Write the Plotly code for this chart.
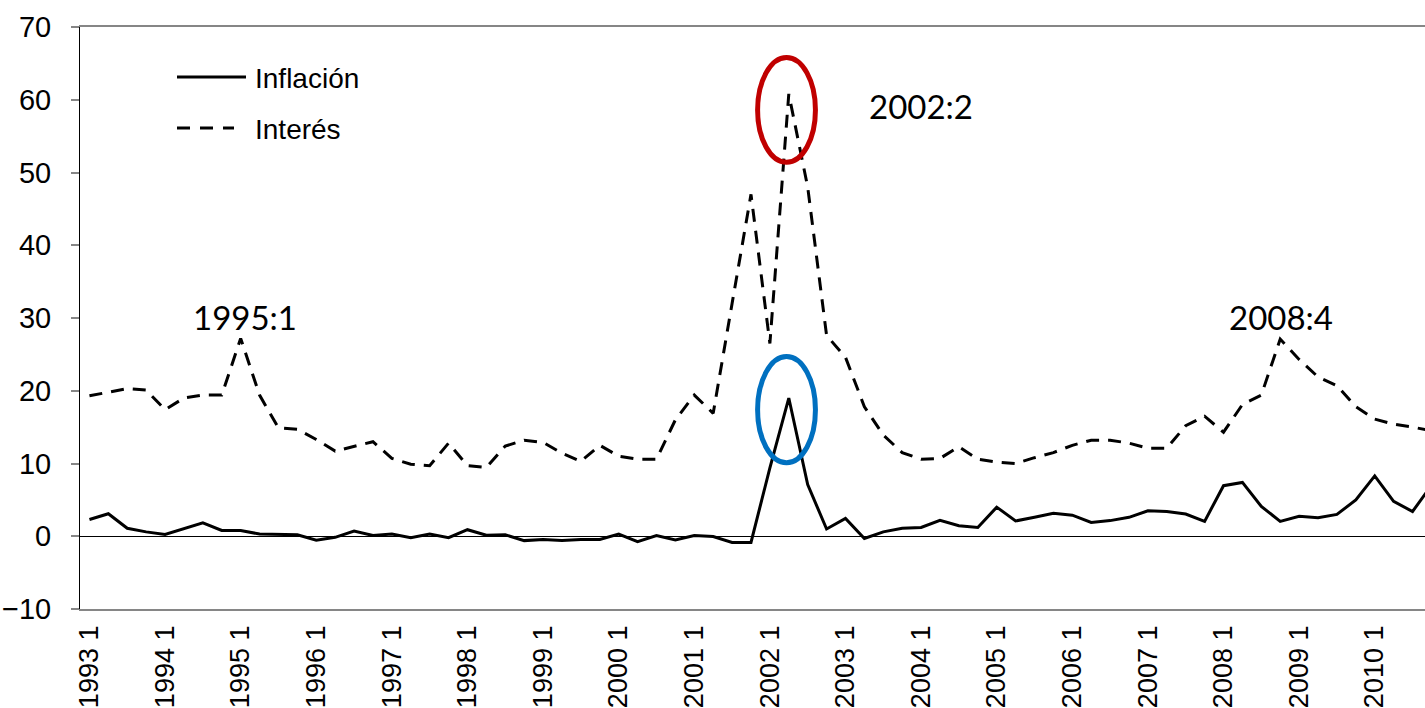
import plotly.graph_objects as go

# Quarterly series, 1993 Q1 - 2010 Q4 (percent)
quarters = [f"{y}:{q}" for y in range(1993, 2011) for q in range(1, 5)]

inflacion = [
    2.3, 3.1, 1.1, 0.6, 0.25, 1.0, 1.85, 0.8,
    0.8, 0.3, 0.3, 0.2, -0.55, -0.15, 0.7, 0.1,
    0.3, -0.2, 0.3, -0.2, 0.9, 0.15, 0.2, -0.6,
    -0.45, -0.6, -0.45, -0.45, 0.3, -0.75, 0.1, -0.5,
    0.1, -0.05, -0.85, -0.85, 9.4, 19.0, 7.1, 1.0,
    2.45, -0.3, 0.6, 1.1, 1.2, 2.2, 1.45, 1.2,
    4.0, 2.1, 2.6, 3.15, 2.9, 1.9, 2.15, 2.6,
    3.5, 3.4, 3.05, 2.05, 6.95, 7.4, 4.1, 2.05,
    2.75, 2.55, 3.0, 5.0, 8.3, 4.8, 3.4, 7.0,
]

interes = [
    19.3, 19.8, 20.3, 20.1, 17.4, 19.0, 19.4, 19.4,
    27.2, 19.4, 14.9, 14.7, 13.3, 11.7, 12.4, 13.0,
    10.7, 9.9, 9.7, 12.8, 9.7, 9.45, 12.4, 13.2,
    12.9, 11.4, 10.3, 12.5, 11.0, 10.6, 10.6, 16.0,
    19.4, 16.9, 32.0, 47.0, 26.5, 60.8, 48.0, 27.6,
    24.6, 17.8, 13.9, 11.5, 10.6, 10.7, 12.3, 10.6,
    10.2, 10.0, 10.8, 11.5, 12.5, 13.2, 13.2, 12.8,
    12.1, 12.1, 15.2, 16.5, 14.3, 18.1, 19.4, 27.1,
    24.3, 21.9, 20.7, 17.8, 16.1, 15.4, 15.0, 14.5,
]

# Category axis: one label per year, at the first quarter
tick_idx = list(range(0, len(quarters), 4))
tick_text = [f"{quarters[i].split(':')[0]} 1" for i in tick_idx]

# Highlighted quarters
peak_labels = ["1995:1", "2002:2", "2008:4"]

FONT = "Liberation Sans, Arial, sans-serif"
NOTE_FONT = "Lato, Century Gothic, sans-serif"

x = list(range(len(quarters)))

fig = go.Figure()
fig.add_trace(go.Scatter(
    x=x, y=inflacion, mode="lines", name="Inflación",
    line=dict(color="black", width=3), showlegend=False,
))
fig.add_trace(go.Scatter(
    x=x, y=interes, mode="lines", name="Interés",
    line=dict(color="black", width=3, dash="13px,9px"), showlegend=False,
))

# Peak annotations (quarter label placed above each interest-rate peak)
note_pos = {"1995:1": (8.23, 30.1), "2002:2": (44.0, 59.1), "2008:4": (63.04, 30.1)}
for lab in peak_labels:
    px, py = note_pos[lab]
    fig.add_annotation(
        x=px, y=py, xref="x", yref="y", text=lab, showarrow=False,
        xanchor="center", yanchor="middle",
        font=dict(family=NOTE_FONT, size=33, color="black"),
    )

# Ellipses around the 2002:2 peaks
k = quarters.index("2002:2")
fig.add_shape(type="circle", xref="x", yref="y",
              x0=k - 0.12 - 1.53, x1=k - 0.12 + 1.53, y0=51.4, y1=65.8,
              line=dict(color="#C00000", width=5))
fig.add_shape(type="circle", xref="x", yref="y",
              x0=k - 0.12 - 1.53, x1=k - 0.12 + 1.53, y0=10.1, y1=24.7,
              line=dict(color="#0070C0", width=5))

# Hand-drawn legend (long line samples)
W, L, T, H = 1425, 80, 27, 582
PW = W - L


def px_x(p):
    return (p - L) / PW


def px_y(p):
    return (T + H - p) / H


fig.add_shape(type="line", xref="paper", yref="paper",
              x0=px_x(177), x1=px_x(246), y0=px_y(77), y1=px_y(77),
              line=dict(color="black", width=3))
fig.add_shape(type="line", xref="paper", yref="paper",
              x0=px_x(177), x1=px_x(234), y0=px_y(128), y1=px_y(128),
              line=dict(color="black", width=3, dash="13px,10px"))
fig.add_annotation(x=px_x(253), y=px_y(78), xref="paper", yref="paper",
                   text="Inflación", showarrow=False, xanchor="left", yanchor="middle",
                   font=dict(family=FONT, size=28, color="black"))
fig.add_annotation(x=px_x(253), y=px_y(129), xref="paper", yref="paper",
                   text="Interés", showarrow=False, xanchor="left", yanchor="middle",
                   font=dict(family=FONT, size=28, color="black"))

fig.update_layout(
    width=W, height=708,
    margin=dict(l=L, r=0, t=T, b=708 - T - H, pad=0),
    plot_bgcolor="white", paper_bgcolor="white",
    font=dict(family=FONT, size=28, color="black"),
)
fig.update_xaxes(
    range=[-0.5, 70.66], tickmode="array", tickvals=tick_idx, ticktext=tick_text,
    tickangle=-90, showgrid=False, zeroline=False,
    showline=True, linecolor="#868686", linewidth=1.5, mirror=True,
    ticks="", ticklabelstandoff=4,
    tickfont=dict(family=FONT, size=27, color="black"),
)
fig.update_yaxes(
    range=[-10, 70], dtick=10, showgrid=False,
    zeroline=True, zerolinecolor="black", zerolinewidth=1,
    showline=True, linecolor="black", linewidth=1,
    ticks="outside", ticklen=8, tickcolor="#868686", tickwidth=1.5,
    ticklabelstandoff=14,
    tickfont=dict(family=FONT, size=29, color="black"),
)

fig.write_html("out.html")
